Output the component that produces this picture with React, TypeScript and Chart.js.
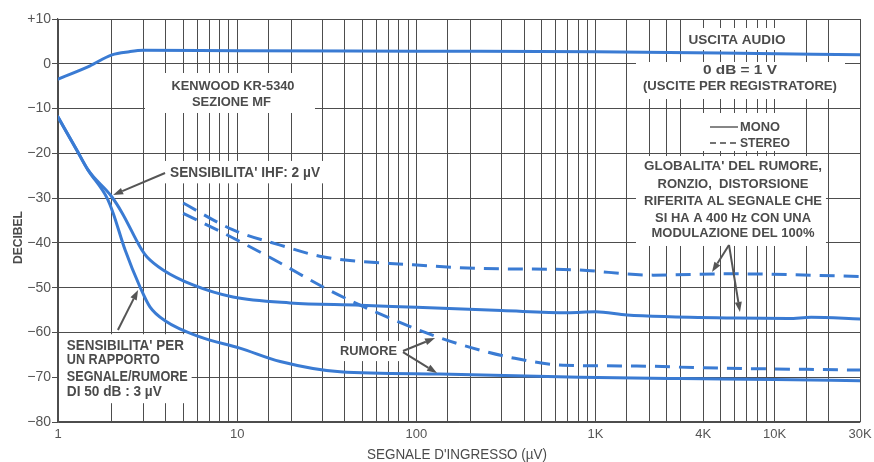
import React, { useEffect, useRef } from 'react';
import { Chart, registerables } from 'chart.js';

Chart.register(...registerables);

// ---------- axes ----------
const xGridTicks = [
  1, 2, 3, 4, 5, 6, 7, 8, 9,
  10, 15, 20, 30, 40, 50, 60, 70, 80, 90,
  100, 150, 200, 300, 400, 500, 600, 700, 800, 900,
  1000, 1500, 2000, 2500, 3000, 4000, 5000, 6000, 7000, 8000, 9000,
  10000, 15000, 20000, 30000,
];
const xLabelValues = [1, 10, 100, 1000, 4000, 10000, 30000];
const xLabelTexts = ['1', '10', '100', '1K', '4K', '10K', '30K'];
const yTickValues = [10, 0, -10, -20, -30, -40, -50, -60, -70, -80];
const yTickTexts = ['+10', '0', '\u221210', '\u221220', '\u221230', '\u221240', '\u221250', '\u221260', '\u221270', '\u221280'];

// ---------- series (x: µV, y: dB) ----------
// Uscita audio (mono)
const audioX = [1, 1.5, 2, 2.5, 3, 10, 100, 1000, 5000, 30000];
const audioY = [-3.4, -0.5, 2.0, 2.7, 3.0, 2.9, 2.8, 2.7, 2.4, 2.0];

// Globalità rumore / distorsione – mono (solid, upper)
const monoDistX = [1, 1.27, 1.47, 2.0, 2.28, 2.94, 3.14, 3.86, 5.67, 9.48, 19.7, 48.6, 100, 300, 700, 1000, 1500, 2600, 6200, 12000, 16000, 30000];
const monoDistY = [-11.9, -19.2, -23.7, -29.75, -33.3, -41.6, -43.15, -46.05, -49.4, -52.1, -53.4, -53.9, -54.4, -55.1, -55.6, -55.4, -56.1, -56.5, -56.8, -56.9, -56.6, -57.0];

// Rumore – mono (solid, lower)
const monoNoiseX = [1, 1.27, 1.47, 1.88, 2.03, 2.37, 2.87, 3.26, 4.0, 6.2, 10.35, 17.4, 37.6, 135, 820, 3000, 10000, 30000];
const monoNoiseY = [-11.9, -19.2, -23.7, -30.0, -33.3, -41.6, -49.85, -54.3, -57.5, -61.0, -63.5, -66.5, -68.8, -69.3, -70.0, -70.3, -70.5, -70.8];

// Globalità rumore / distorsione – stereo (dashed, upper)
const stereoDistX = [5, 9.5, 17.4, 30, 96, 226, 750, 2100, 5600, 30000];
const stereoDistY = [-31.1, -37.1, -40.5, -43.1, -44.9, -45.7, -46.0, -47.2, -46.9, -47.5];

// Rumore – stereo (dashed, lower)
const stereoNoiseX = [5, 9.5, 17.4, 30, 48.6, 123, 207, 347, 660, 1700, 4000, 30000];
const stereoNoiseY = [-33.4, -38.9, -44.5, -49.8, -53.9, -60.6, -63.5, -65.7, -67.3, -67.5, -67.9, -68.4];

// ---------- annotations (anchored in data coordinates) ----------
const annotBoxes = [
  { x0: 3.06, x1: 27.2, y0: -2.06, y1: -10.99 },
  { x0: 3.71, x1: 33.0, y0: -21.7, y1: -26.7 },
  { x0: 1, x1: 5.5, y0: -60.4, y1: -75.8 },
  { x0: 35.2, x1: 81.1, y0: -61.9, y1: -66.4 },
  { x0: 3083, x1: 12530, y0: 7.99, y1: 3.08 },
  { x0: 1685, x1: 24740, y0: 0.4, y1: -7.87 },
  { x0: 3838, x1: 13870, y0: -10.99, y1: -19.48 },
  { x0: 1685, x1: 19370, y0: -20.6, y1: -40.69 },
];

type TextItem = { t: string; x: number; y: number; w: number; size: number; align?: CanvasTextAlign };
const annotTexts: TextItem[] = [
  { t: 'KENWOOD KR-5340', x: 9.48, y: -4.96, w: 123, size: 12 },
  { t: 'SEZIONE MF', x: 9.3, y: -8.54, w: 79, size: 12 },
  { t: "SENSIBILITA' IHF: 2 \u00B5V", x: 11.07, y: -24.17, w: 150, size: 14 },
  { t: "SENSIBILITA' PER", x: 1.12, y: -62.8, w: 117, size: 14.5, align: 'left' },
  { t: 'UN RAPPORTO', x: 1.12, y: -65.93, w: 93, size: 14.5, align: 'left' },
  { t: 'SEGNALE/RUMORE', x: 1.12, y: -69.73, w: 121, size: 14.5, align: 'left' },
  { t: 'DI 50 dB : 3 \u00B5V', x: 1.12, y: -73.08, w: 95, size: 14.5, align: 'left' },
  { t: 'RUMORE', x: 54.1, y: -64.14, w: 57, size: 12 },
  { t: 'USCITA AUDIO', x: 6170, y: 5.31, w: 97, size: 12.5 },
  { t: '0 dB = 1 V', x: 6412, y: -1.39, w: 74, size: 12 },
  { t: '(USCITE PER REGISTRATORE)', x: 6412, y: -4.96, w: 194, size: 12.5 },
  { t: 'MONO', x: 6412, y: -14.12, w: 40, size: 12, align: 'left' },
  { t: 'STEREO', x: 6412, y: -17.69, w: 50, size: 12, align: 'left' },
  { t: "GLOBALITA' DEL RUMORE,", x: 5868, y: -22.61, w: 178, size: 13 },
  { t: 'RONZIO,  DISTORSIONE', x: 5868, y: -26.63, w: 151, size: 13 },
  { t: 'RIFERITA AL SEGNALE CHE', x: 5868, y: -30.42, w: 178, size: 13 },
  { t: 'SI HA A 400 Hz CON UNA', x: 5868, y: -34.22, w: 156, size: 13 },
  { t: 'MODULAZIONE DEL 100%', x: 5868, y: -37.57, w: 163, size: 13 },
];

const legendLines = [
  { x0: 4363, x1: 6252, y: -14.12, dash: [] as number[] },
  { x0: 4363, x1: 6252, y: -17.69, dash: [6, 4] },
];

const annotArrows = [
  { x1: 3.96, y1: -24.39, x2: 2.03, y2: -29.31 },
  { x1: 2.16, y1: -59.45, x2: 2.8, y2: -50.52 },
  { x1: 84.3, y1: -64.14, x2: 127.3, y2: -61.24 },
  { x1: 84.3, y1: -64.4, x2: 130.6, y2: -69.06 },
  { x1: 5570, y1: -40.47, x2: 4478, y2: -46.5 },
  { x1: 5570, y1: -40.47, x2: 6412, y2: -55.43 },
];

const FONT = '"Liberation Sans", Arial, sans-serif';
const TEXT_COLOR = '#4b4b4b';
const GRID_COLOR = '#4d4d4d';
const BLUE = '#3a7bd3';

function fitText(ctx: CanvasRenderingContext2D, text: string, x: number, y: number, width: number, size: number, weight: string, align: CanvasTextAlign = 'center') {
  ctx.save();
  ctx.font = `${weight} ${size}px ${FONT}`;
  const natural = ctx.measureText(text).width;
  const s = width / natural;
  ctx.translate(x, y + size * 0.358);
  ctx.scale(s, 1);
  ctx.textAlign = align;
  ctx.textBaseline = 'alphabetic';
  ctx.fillStyle = TEXT_COLOR;
  ctx.fillText(text, 0, 0);
  ctx.restore();
}

function drawArrow(ctx: CanvasRenderingContext2D, x1: number, y1: number, x2: number, y2: number) {
  const ang = Math.atan2(y2 - y1, x2 - x1);
  const len = 10, half = 3.5;
  const bx = x2 - Math.cos(ang) * len;
  const by = y2 - Math.sin(ang) * len;
  ctx.save();
  ctx.strokeStyle = '#555';
  ctx.fillStyle = '#555';
  ctx.lineWidth = 2;
  ctx.beginPath();
  ctx.moveTo(x1, y1);
  ctx.lineTo(bx, by);
  ctx.stroke();
  ctx.beginPath();
  ctx.moveTo(x2, y2);
  ctx.lineTo(bx + Math.sin(ang) * half, by - Math.cos(ang) * half);
  ctx.lineTo(bx - Math.sin(ang) * half, by + Math.cos(ang) * half);
  ctx.closePath();
  ctx.fill();
  ctx.restore();
}

const annotPlugin = {
  id: 'annotations',
  beforeDraw(chart: any) {
    const ctx = chart.ctx as CanvasRenderingContext2D;
    ctx.save();
    ctx.fillStyle = '#ffffff';
    ctx.fillRect(0, 0, chart.width, chart.height);
    ctx.restore();
  },
  beforeDatasetsDraw(chart: any) {
    const ctx = chart.ctx as CanvasRenderingContext2D;
    const xs = chart.scales.x, ys = chart.scales.y;
    ctx.save();
    ctx.fillStyle = '#ffffff';
    for (const b of annotBoxes) {
      const x0 = xs.getPixelForValue(b.x0), x1 = xs.getPixelForValue(b.x1);
      const y0 = ys.getPixelForValue(b.y0), y1 = ys.getPixelForValue(b.y1);
      ctx.fillRect(Math.min(x0, x1) + (b.x0 === 1 ? 1 : 0), Math.min(y0, y1), Math.abs(x1 - x0), Math.abs(y1 - y0));
    }
    ctx.restore();
    for (const t of annotTexts) {
      fitText(ctx, t.t, xs.getPixelForValue(t.x), ys.getPixelForValue(t.y), t.w, t.size, 'bold', t.align || 'center');
    }
    ctx.save();
    ctx.strokeStyle = '#444';
    ctx.lineWidth = 1.3;
    for (const l of legendLines) {
      ctx.setLineDash(l.dash);
      ctx.beginPath();
      const y = ys.getPixelForValue(l.y);
      ctx.moveTo(xs.getPixelForValue(l.x0), y);
      ctx.lineTo(xs.getPixelForValue(l.x1), y);
      ctx.stroke();
    }
    ctx.restore();
  },
  afterDatasetsDraw(chart: any) {
    const ctx = chart.ctx as CanvasRenderingContext2D;
    const xs = chart.scales.x, ys = chart.scales.y;
    for (const a of annotArrows) {
      drawArrow(ctx, xs.getPixelForValue(a.x1), ys.getPixelForValue(a.y1), xs.getPixelForValue(a.x2), ys.getPixelForValue(a.y2));
    }
    // axis titles
    const ca = chart.chartArea;
    ctx.save();
    ctx.translate(17, (ca.top + ca.bottom) / 2 + 17);
    ctx.rotate(-Math.PI / 2);
    fitText(ctx, 'DECIBEL', 0, 0, 53, 13, 'bold');
    ctx.restore();
    fitText(ctx, "SEGNALE D'INGRESSO (\u00B5V)", (ca.left + ca.right) / 2 - 2, 454, 180, 14, 'normal');
  },
};

function pts(xs: number[], ys: number[]) {
  return xs.map((x, i) => ({ x, y: ys[i] }));
}

export default function App() {
  const ref = useRef<HTMLCanvasElement>(null);
  useEffect(() => {
    const solid = { borderColor: BLUE, borderWidth: 3, pointRadius: 0, cubicInterpolationMode: 'monotone' as const, borderCapStyle: 'round' as const, borderJoinStyle: 'round' as const, fill: false };
    const dashed = { ...solid, borderDash: [15, 9], borderCapStyle: 'butt' as const };
    const chart = new Chart(ref.current!, {
      type: 'line',
      data: {
        datasets: [
          { label: 'Uscita audio', data: pts(audioX, audioY), ...solid },
          { label: 'Mono – globalità', data: pts(monoDistX, monoDistY), ...solid },
          { label: 'Mono – rumore', data: pts(monoNoiseX, monoNoiseY), ...solid },
          { label: 'Stereo – globalità', data: pts(stereoDistX, stereoDistY), ...dashed },
          { label: 'Stereo – rumore', data: pts(stereoNoiseX, stereoNoiseY), ...dashed },
        ],
      },
      options: {
        responsive: false,
        animation: false,
        devicePixelRatio: 1,
        layout: { padding: { left: 0, top: 19, right: 14, bottom: 0 } },
        plugins: { legend: { display: false }, tooltip: { enabled: false } },
        scales: {
          x: {
            type: 'logarithmic',
            min: 1,
            max: 30000,
            afterBuildTicks: (axis: any) => {
              axis.ticks = xGridTicks.map((v) => ({ value: v }));
            },
            afterFit: (s: any) => {
              s.height = 40;
              s.paddingLeft = 0; s.paddingRight = 0; s.paddingTop = 0; s.paddingBottom = 0;
            },
            grid: { color: GRID_COLOR, lineWidth: 1, drawTicks: false },
            border: { color: GRID_COLOR, width: 1.2 },
            ticks: {
              autoSkip: false,
              maxRotation: 0,
              padding: 5,
              color: '#555',
              font: { family: FONT, size: 13 },
              callback: (v: any) => {
                const i = xLabelValues.indexOf(Number(v));
                return i >= 0 ? xLabelTexts[i] : '';
              },
            },
          },
          y: {
            type: 'linear',
            min: -80,
            max: 10,
            afterBuildTicks: (axis: any) => {
              axis.ticks = yTickValues.map((v) => ({ value: v }));
            },
            afterFit: (s: any) => {
              s.width = 58;
              s.paddingLeft = 0; s.paddingRight = 0; s.paddingTop = 0; s.paddingBottom = 0;
            },
            grid: { color: GRID_COLOR, lineWidth: 1, drawTicks: true, tickLength: 6 },
            border: { color: GRID_COLOR, width: 1.2 },
            ticks: {
              padding: 1,
              color: '#555',
              font: { family: FONT, size: 14 },
              callback: (v: any) => {
                const i = yTickValues.indexOf(Number(v));
                return i >= 0 ? yTickTexts[i] : '';
              },
            },
          },
        },
      },
      plugins: [annotPlugin],
    });
    return () => chart.destroy();
  }, []);
  return (
    <div style={{ position: 'absolute', left: 0, top: 0, width: 874, height: 462, background: '#fff' }}>
      <canvas ref={ref} width={874} height={462} style={{ display: 'block', width: 874, height: 462 }} />
    </div>
  );
}
